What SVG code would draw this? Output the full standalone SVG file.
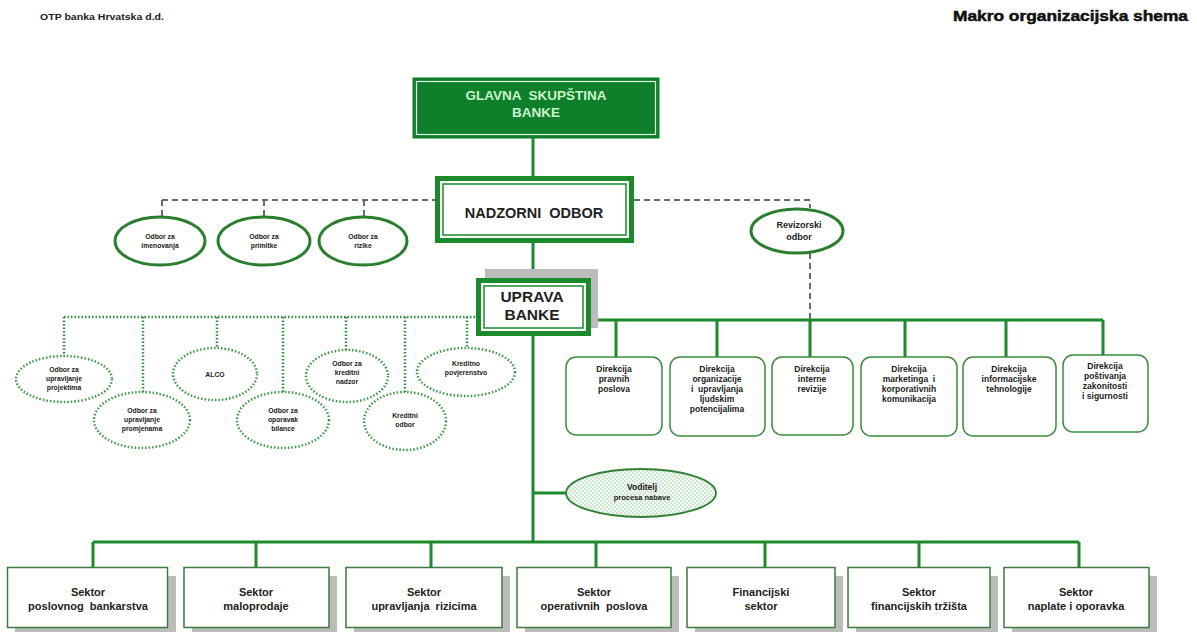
<svg xmlns="http://www.w3.org/2000/svg" width="1197" height="632" viewBox="0 0 1197 632">
<defs>
<style>
text{font-family:"Liberation Sans",Arial,sans-serif;font-weight:bold;fill:#222;text-anchor:middle;white-space:pre}
.solid{stroke:#1d8a2c;stroke-width:3;fill:none}
.dash{stroke:#5b735b;stroke-width:2;stroke-dasharray:6 4;fill:none}
.dot{stroke:#2f8f3a;stroke-width:2.5;stroke-dasharray:1.5 2;fill:none}
.ell{fill:#fff;stroke:#2a7f2f;stroke-width:3}
.dell{fill:#fff;stroke:#3a9a44;stroke-width:2.5;stroke-dasharray:1.5 2}
.dir{fill:#fff;stroke:#3d8a3d;stroke-width:1.5}
.sec{fill:#fff;stroke:#3d7a3d;stroke-width:1.5}
.shadow{fill:#bcbcbc}
.s7{font-size:6.8px}
.s8{font-size:8.5px}
.s11{font-size:11px}
</style>
<pattern id="dots" width="4" height="4" patternUnits="userSpaceOnUse">
<rect width="4" height="4" fill="#f4faf4"/>
<circle cx="1" cy="1" r="0.7" fill="#8fc49a"/>
<circle cx="3" cy="3" r="0.7" fill="#8fc49a"/>
</pattern>
</defs>
<rect width="1197" height="632" fill="#fff"/>
<text x="40" y="20" style="font-size:8.5px;text-anchor:start" textLength="124" lengthAdjust="spacingAndGlyphs">OTP banka Hrvatska d.d.</text>
<text x="1188" y="21" style="font-size:14.5px;text-anchor:end;fill:#111;stroke:#111;stroke-width:0.5" textLength="235" lengthAdjust="spacingAndGlyphs">Makro organizacijska shema</text>

<g id="connectors">
<path class="solid" d="M533 138V176M533 243V278M533 336V542M93 542H1079M93 542V567M256 542V567M431 542V567M596 542V567M765 542V567M919 542V567M1079 542V567M533 493H566"/>
<path class="solid" d="M591 320H1103M616 320V357M717 320V357M810 320V357M905 320V357M1006 320V357M1103 320V355"/>
<path class="dash" d="M162 200H435M634 200H810V208M162 200V216M264 200V216M364 200V216M810 253V320"/>
<path class="dot" d="M64 317H476M64 317V356M143 317V392M217 317V348M283 317V392M346 317V350M405 317V392M467 317V348"/>
</g>

<g id="glavna">
<rect x="413" y="78" width="246" height="60" fill="#0e7f2a" stroke="#0e7f2a" stroke-width="1"/>
<rect x="416.5" y="81.5" width="239" height="53" fill="none" stroke="#e8f6e8" stroke-width="1.2"/>
<text x="536" y="100" style="font-size:13.5px;fill:#cdf2cd" xml:space="preserve">GLAVNA  SKUPŠTINA</text>
<text x="536" y="117" style="font-size:13.5px;fill:#cdf2cd">BANKE</text>
</g>

<g id="nadzorni">
<rect x="437.5" y="178.5" width="194" height="62" fill="#fff" stroke="#1a8a2a" stroke-width="5"/>
<rect x="443" y="184" width="183" height="51" fill="none" stroke="#1a8a2a" stroke-width="1.5"/>
<text x="534" y="218" style="font-size:14.5px" xml:space="preserve">NADZORNI  ODBOR</text>
</g>

<g id="odbor-imenovanja">
<ellipse class="ell" cx="160" cy="241" rx="45" ry="24"/>
<text class="s7" x="160" y="239">Odbor za</text>
<text class="s7" x="160" y="248">imenovanja</text>
</g>
<g id="odbor-primitke">
<ellipse class="ell" cx="264" cy="241" rx="46" ry="24"/>
<text class="s7" x="264" y="239">Odbor za</text>
<text class="s7" x="264" y="248">primitke</text>
</g>
<g id="odbor-rizike">
<ellipse class="ell" cx="363" cy="241" rx="44" ry="24"/>
<text class="s7" x="363" y="239">Odbor za</text>
<text class="s7" x="363" y="248">rizike</text>
</g>
<g id="revizorski">
<ellipse class="ell" cx="797" cy="231" rx="46" ry="22"/>
<text x="799" y="228" style="font-size:9px">Revizorski</text>
<text x="799" y="240" style="font-size:9px">odbor</text>
</g>

<g id="uprava">
<rect x="485" y="269" width="113" height="59" class="shadow"/>
<rect x="478.5" y="280.5" width="110" height="53" fill="#fff" stroke="#1a8a2a" stroke-width="5"/>
<rect x="484" y="286" width="99" height="42" fill="none" stroke="#1a8a2a" stroke-width="1.5"/>
<text x="532" y="302" style="font-size:15.5px">UPRAVA</text>
<text x="532" y="320" style="font-size:15.5px">BANKE</text>
</g>

<g id="odbor-projektima">
<ellipse class="dell" cx="64" cy="379" rx="48" ry="23"/>
<text class="s7" x="64" y="372">Odbor za</text>
<text class="s7" x="64" y="381">upravljanje</text>
<text class="s7" x="64" y="390">projektima</text>
</g>
<g id="odbor-promjenama">
<ellipse class="dell" cx="142" cy="420" rx="48" ry="28"/>
<text class="s7" x="142" y="413">Odbor za</text>
<text class="s7" x="142" y="422">upravljanje</text>
<text class="s7" x="142" y="431">promjenama</text>
</g>
<g id="alco">
<ellipse class="dell" cx="215" cy="374" rx="42" ry="26"/>
<text class="s7" x="215" y="377">ALCO</text>
</g>
<g id="odbor-oporavak">
<ellipse class="dell" cx="283" cy="420" rx="46" ry="28"/>
<text class="s7" x="283" y="413">Odbor za</text>
<text class="s7" x="283" y="422">oporavak</text>
<text class="s7" x="283" y="431">bilance</text>
</g>
<g id="odbor-kreditni-nadzor">
<ellipse class="dell" cx="347" cy="376" rx="41" ry="26"/>
<text class="s7" x="347" y="366">Odbor za</text>
<text class="s7" x="347" y="375">kreditni</text>
<text class="s7" x="347" y="384">nadzor</text>
</g>
<g id="kreditni-odbor">
<ellipse class="dell" cx="405" cy="421" rx="41" ry="29"/>
<text class="s7" x="405" y="418">Kreditni</text>
<text class="s7" x="405" y="427">odbor</text>
</g>
<g id="kreditno-povjerenstvo">
<ellipse class="dell" cx="466" cy="372" rx="49" ry="24"/>
<text class="s7" x="466" y="366">Kreditno</text>
<text class="s7" x="466" y="375">povjerenstvo</text>
</g>

<g id="dir-pravnih">
<rect class="dir" x="566" y="357" width="96" height="78" rx="10"/>
<text class="s8" x="614" y="372">Direkcija</text>
<text class="s8" x="614" y="382">pravnih</text>
<text class="s8" x="614" y="392">poslova</text>
</g>
<g id="dir-organizacije">
<rect class="dir" x="670" y="357" width="95" height="79" rx="10"/>
<text class="s8" x="717" y="372">Direkcija</text>
<text class="s8" x="717" y="382">organizacije</text>
<text class="s8" x="717" y="392" xml:space="preserve">i  upravljanja</text>
<text class="s8" x="717" y="402">ljudskim</text>
<text class="s8" x="717" y="412">potencijalima</text>
</g>
<g id="dir-revizije">
<rect class="dir" x="772" y="357" width="81" height="78" rx="10"/>
<text class="s8" x="812" y="372">Direkcija</text>
<text class="s8" x="812" y="382">interne</text>
<text class="s8" x="812" y="392">revizije</text>
</g>
<g id="dir-marketinga">
<rect class="dir" x="861" y="357" width="96" height="79" rx="10"/>
<text class="s8" x="909" y="372">Direkcija</text>
<text class="s8" x="909" y="382" xml:space="preserve">marketinga  i</text>
<text class="s8" x="909" y="392">korporativnih</text>
<text class="s8" x="909" y="402">komunikacija</text>
</g>
<g id="dir-it">
<rect class="dir" x="963" y="357" width="93" height="79" rx="10"/>
<text class="s8" x="1009" y="372">Direkcija</text>
<text class="s8" x="1009" y="382">informacijske</text>
<text class="s8" x="1009" y="392">tehnologije</text>
</g>
<g id="dir-zakonitosti">
<rect class="dir" x="1063" y="355" width="85" height="77" rx="10"/>
<text class="s8" x="1105" y="369">Direkcija</text>
<text class="s8" x="1105" y="379">poštivanja</text>
<text class="s8" x="1105" y="389">zakonitosti</text>
<text class="s8" x="1105" y="399">i sigurnosti</text>
</g>

<g id="voditelj">
<ellipse cx="641" cy="493" rx="75" ry="24" fill="url(#dots)" stroke="#2f7f35" stroke-width="1.8"/>
<text x="642" y="490" style="font-size:8.5px">Voditelj</text>
<text x="642" y="500" style="font-size:7.5px">procesa nabave</text>
</g>

<g id="sektor-poslovnog">
<rect class="shadow" x="15" y="576" width="161" height="56"/>
<rect class="sec" x="7.5" y="567.5" width="160" height="60"/>
<text class="s11" x="88" y="596">Sektor</text>
<text class="s11" x="88" y="610" xml:space="preserve">poslovnog  bankarstva</text>
</g>
<g id="sektor-maloprodaje">
<rect class="shadow" x="192" y="576" width="145" height="56"/>
<rect class="sec" x="184" y="567.5" width="145" height="60"/>
<text class="s11" x="256" y="596">Sektor</text>
<text class="s11" x="256" y="610">maloprodaje</text>
</g>
<g id="sektor-rizicima">
<rect class="shadow" x="354" y="576" width="156" height="56"/>
<rect class="sec" x="346" y="567.5" width="156" height="60"/>
<text class="s11" x="424" y="596">Sektor</text>
<text class="s11" x="424" y="610" xml:space="preserve">upravljanja  rizicima</text>
</g>
<g id="sektor-operativnih">
<rect class="shadow" x="525" y="576" width="154" height="56"/>
<rect class="sec" x="517" y="567.5" width="154" height="60"/>
<text class="s11" x="594" y="596">Sektor</text>
<text class="s11" x="594" y="610" xml:space="preserve">operativnih  poslova</text>
</g>
<g id="financijski-sektor">
<rect class="shadow" x="695" y="576" width="148" height="56"/>
<rect class="sec" x="687" y="567.5" width="148" height="60"/>
<text class="s11" x="761" y="596">Financijski</text>
<text class="s11" x="761" y="610">sektor</text>
</g>
<g id="sektor-trzista">
<rect class="shadow" x="856" y="576" width="142" height="56"/>
<rect class="sec" x="848" y="567.5" width="142" height="60"/>
<text class="s11" x="919" y="596">Sektor</text>
<text class="s11" x="919" y="610">financijskih tržišta</text>
</g>
<g id="sektor-naplate">
<rect class="shadow" x="1012" y="576" width="145" height="56"/>
<rect class="sec" x="1004" y="567.5" width="145" height="60"/>
<text class="s11" x="1076" y="596">Sektor</text>
<text class="s11" x="1076" y="610">naplate i oporavka</text>
</g>
</svg>
